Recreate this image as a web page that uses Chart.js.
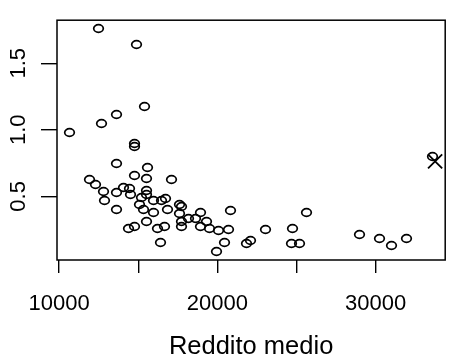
<!DOCTYPE html>
<html>
<head>
<meta charset="utf-8">
<script src="https://cdn.jsdelivr.net/npm/chart.js@4"></script>
<style>
  html, body { margin: 0; padding: 0; background: #ffffff; }
  #wrap { width: 457px; height: 360px; }
</style>
</head>
<body>
<div id="wrap"><canvas id="c" width="457" height="360"></canvas></div>
<script>
// ---- data ----
const income = [12511, 14886, 15363, 13608, 12653, 10651, 14743, 14743, 13645, 15611,
  14743, 15505, 17099, 11891, 12306, 12777, 13645, 14061, 14414, 14514,
  15505, 15505, 15195, 12883, 15983, 16479, 16746, 15096, 15344, 15964,
  16851, 13645, 17576, 17738, 17576, 18958, 17738, 18196, 18605, 19330,
  15505, 14371, 14786, 16231, 16683, 17738, 18958, 19473, 20056, 16373,
  19950, 20818, 20713, 20465, 21810, 22077, 23050, 24767, 24662, 25177,
  25635, 29002, 30242, 31005, 31977, 33590];
const values = [1.763, 1.641, 1.175, 1.114, 1.047, 0.976, 0.899, 0.878, 0.750, 0.719,
  0.658, 0.636, 0.624, 0.624, 0.588, 0.539, 0.527, 0.568, 0.556, 0.515,
  0.544, 0.515, 0.488, 0.471, 0.466, 0.466, 0.483, 0.439, 0.398, 0.379,
  0.398, 0.398, 0.439, 0.422, 0.369, 0.379, 0.313, 0.330, 0.330, 0.308,
  0.308, 0.260, 0.272, 0.260, 0.272, 0.272, 0.272, 0.260, 0.240, 0.155,
  0.087, 0.391, 0.253, 0.155, 0.143, 0.168, 0.253, 0.260, 0.143, 0.143,
  0.379, 0.211, 0.187, 0.131, 0.180, 0.798];
const markIncome = [33757];
const markValue = [0.763];
const xTicks = [10000, 15000, 20000, 25000, 30000];
const xTickLabels = ['10000', '', '20000', '', '30000'];
const yTicks = [0.5, 1.0, 1.5];
const yTickLabels = ['0.5', '1.0', '1.5'];
const xTitle = 'Reddito medio';

// ---- styles ----
const FONT = 'Liberation Sans, Arial, Helvetica, sans-serif';
function ellipseMarker() {
  const c = document.createElement('canvas');
  c.width = 13; c.height = 11;
  const g = c.getContext('2d');
  g.strokeStyle = '#000';
  g.lineWidth = 1.7;
  g.beginPath();
  g.ellipse(6.5, 5.5, 4.8, 3.8, 0, 0, Math.PI * 2);
  g.stroke();
  return c;
}

const circlePts = income.map((x, i) => ({x: x, y: values[i]}));
const markPts = markIncome.map((x, i) => ({x: x, y: markValue[i]}));

const boxPlugin = {
  id: 'box',
  beforeDatasetsDraw(chart) { chart.ctx.imageSmoothingEnabled = false; },
  afterDatasetsDraw(chart) {
    const a = chart.chartArea;
    const ctx = chart.ctx;
    ctx.save();
    ctx.strokeStyle = '#000';
    ctx.lineWidth = 1.5;
    ctx.strokeRect(a.left, a.top, a.right - a.left, a.bottom - a.top);
    ctx.restore();
  }
};

new Chart(document.getElementById('c'), {
  type: 'scatter',
  data: {
    datasets: [
      {
        data: circlePts,
        pointStyle: ellipseMarker(),
        pointRadius: 5,
        pointHoverRadius: 5,
        borderColor: '#000',
        backgroundColor: 'rgba(0,0,0,0)'
      },
      {
        data: markPts,
        pointStyle: 'crossRot',
        pointRadius: 10,
        pointHoverRadius: 10,
        borderWidth: 1.8,
        borderColor: '#000',
        backgroundColor: '#000'
      }
    ]
  },
  options: {
    responsive: false,
    animation: false,
    events: [],
    layout: { padding: { top: 13, right: 4, left: 0, bottom: 0 } },
    plugins: { legend: { display: false }, tooltip: { enabled: false }, title: { display: false } },
    scales: {
      x: {
        type: 'linear',
        min: 9864,
        max: 34395,
        afterBuildTicks(scale) { scale.ticks = xTicks.map(v => ({value: v})); },
        afterFit(scale) { scale.height = 100; },
        border: { display: false },
        grid: { display: true, drawOnChartArea: false, drawTicks: true, tickLength: 13, color: '#000', lineWidth: 1.4 },
        ticks: {
          autoSkip: false, maxRotation: 0, minRotation: 0, padding: 18,
          color: '#000', font: { family: FONT, size: 22 },
          callback(v) { const i = xTicks.indexOf(v); return i >= 0 ? xTickLabels[i] : ''; }
        },
        title: { display: true, text: xTitle, color: '#000', font: { family: FONT, size: 25.5, lineHeight: 1.0 }, padding: { top: 0, bottom: 0 } }
      },
      y: {
        type: 'linear',
        min: 0.022,
        max: 1.823,
        afterBuildTicks(scale) { scale.ticks = yTicks.map(v => ({value: v})); },
        afterFit(scale) { scale.width = 57; },
        border: { display: false },
        grid: { display: true, drawOnChartArea: false, drawTicks: true, tickLength: 16, color: '#000', lineWidth: 1.4 },
        ticks: {
          autoSkip: false, minRotation: 90, maxRotation: 90, crossAlign: 'center', padding: 7,
          color: '#000', font: { family: FONT, size: 22 },
          callback(v) { const i = yTicks.indexOf(v); return i >= 0 ? yTickLabels[i] : ''; }
        }
      }
    }
  },
  plugins: [boxPlugin]
});
</script>
</body>
</html>
